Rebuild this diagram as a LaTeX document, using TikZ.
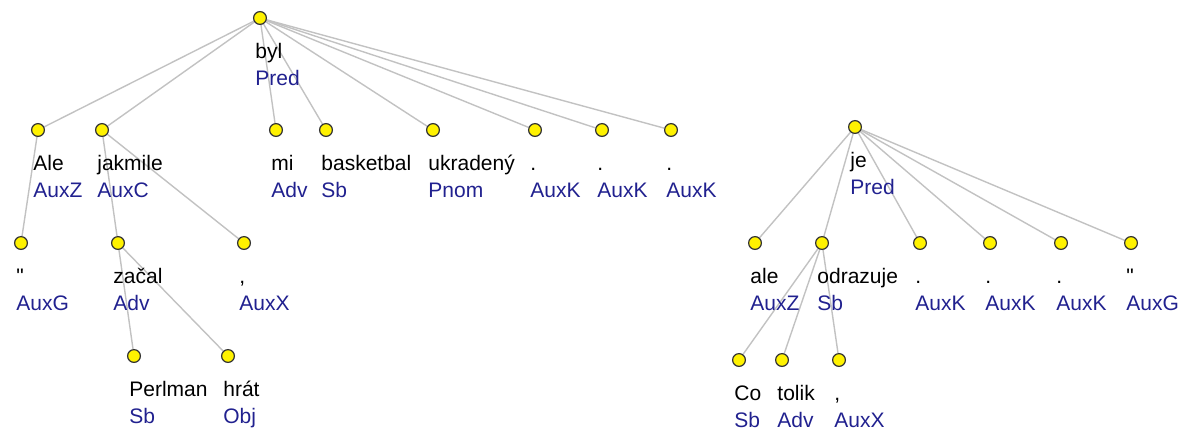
\documentclass[tikz,border=0pt]{standalone}
\usepackage{fontspec}
\setmainfont{Liberation Sans}
\usepackage{tikz}
\usetikzlibrary{calc}
\usetikzlibrary{backgrounds}
\definecolor{afunblue}{rgb}{0.13,0.13,0.56}
\definecolor{edgegray}{rgb}{0.76,0.76,0.76}
\tikzset{tok/.style={circle,draw=black!80,fill=yellow,line width=0.6pt,inner sep=0pt,minimum size=6.4pt}}
\tikzset{wd/.style={anchor=base west,inner sep=0pt,font=\fontsize{10.5}{13}\selectfont}}
\tikzset{afun/.style={wd,text=afunblue}}
\tikzset{edge/.style={draw=edgegray,line width=0.7pt}}
% token: name, x, y, word, afun
\newcommand{\tok}[5]{%
  \node[tok] (#1) at (#2,#3) {};
  \node[wd] (#1w) at ($(#1)+(-5,40)$) {#4};
  \node[afun] (#1f) at ($(#1)+(-5,67)$) {#5};
}

\begin{document}
\begin{tikzpicture}[x=0.5pt,y=-0.5pt]
\useasboundingbox (0,0) rectangle (1182,430);

% first sentence
\tok{byl}{260}{18}{byl}{Pred}
\tok{ale}{38}{130}{Ale}{AuxZ}
\tok{jakmile}{102}{130}{jakmile}{AuxC}
\tok{mi}{276}{130}{mi}{Adv}
\tok{basketbal}{326}{130}{basketbal}{Sb}
\tok{ukradeny}{433}{130}{ukradený}{Pnom}
\tok{dotA}{535}{130}{.}{AuxK}
\tok{dotB}{602}{130}{.}{AuxK}
\tok{dotC}{671}{130}{.}{AuxK}
\tok{quoA}{21}{243}{\textquotedbl}{AuxG}
\tok{zacal}{118}{243}{začal}{Adv}
\tok{commaA}{244}{243}{,}{AuxX}
\tok{perlman}{134}{356}{Perlman}{Sb}
\tok{hrat}{228}{356}{hrát}{Obj}

% second sentence
\tok{je}{855}{127}{je}{Pred}
\tok{aleB}{755}{243}{ale}{AuxZ}
\tok{odrazuje}{822}{243}{odrazuje}{Sb}
\tok{dotD}{920}{243}{.}{AuxK}
\tok{dotE}{990}{243}{.}{AuxK}
\tok{dotF}{1061}{243}{.}{AuxK}
\tok{quoB}{1131}{243}{\textquotedbl}{AuxG}
\tok{co}{739}{360}{Co}{Sb}
\tok{tolik}{782}{360}{tolik}{Adv}
\tok{commaB}{839}{360}{,}{AuxX}

\begin{scope}[on background layer]
\foreach \a/\b in {byl/ale,byl/jakmile,byl/mi,byl/basketbal,byl/ukradeny,
  byl/dotA,byl/dotB,byl/dotC,ale/quoA,jakmile/zacal,jakmile/commaA,
  zacal/perlman,zacal/hrat,
  je/aleB,je/odrazuje,je/dotD,je/dotE,je/dotF,je/quoB,
  odrazuje/co,odrazuje/tolik,odrazuje/commaB}
  \draw[edge] (\a) -- (\b);
\end{scope}
\end{tikzpicture}
\end{document}
